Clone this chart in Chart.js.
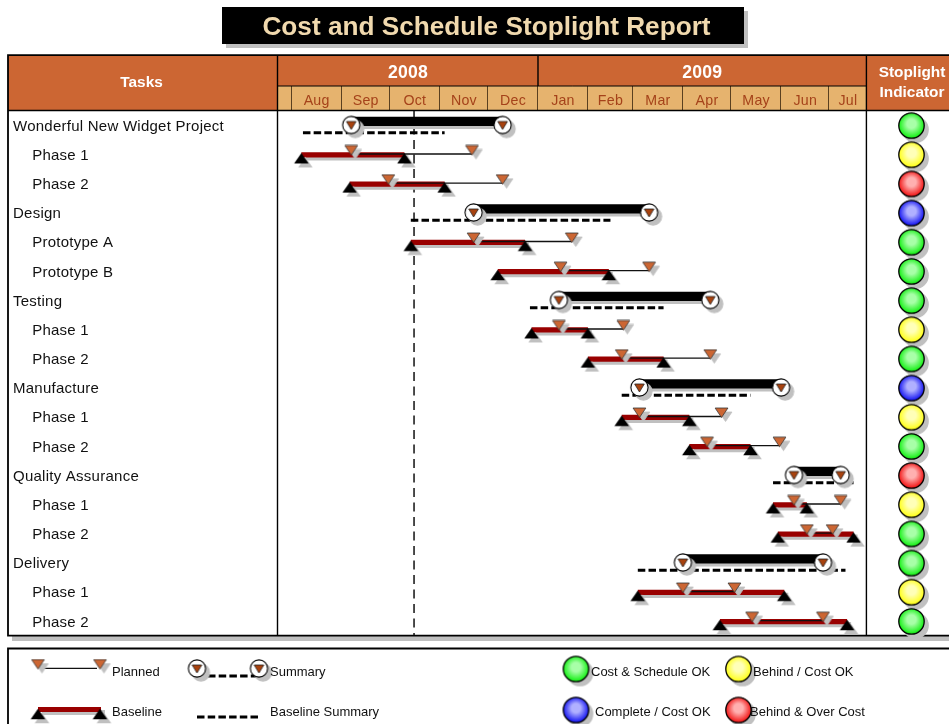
<!DOCTYPE html>
<html><head><meta charset="utf-8"><title>Cost and Schedule Stoplight Report</title>
<style>html,body{margin:0;padding:0;background:#fff;overflow:hidden}canvas{display:block}</style>
<script src="https://cdn.jsdelivr.net/npm/chart.js@4"></script></head>
<body><canvas id="c" width="949" height="724"></canvas>
<script>
const reportTitle = 'Cost and Schedule Stoplight Report';
const taskLabels = ['Wonderful New Widget Project','Phase 1','Phase 2','Design','Prototype A','Prototype B','Testing','Phase 1','Phase 2','Manufacture','Phase 1','Phase 2','Quality Assurance','Phase 1','Phase 2','Delivery','Phase 1','Phase 2'];
const taskLevels = [0,1,1,0,1,1,0,1,1,0,1,1,0,1,1,0,1,1];
const baselineStart = ['2008-08-08','2008-08-07','2008-09-06','2008-10-14','2008-10-14','2008-12-07','2008-12-27','2008-12-28','2009-02-01','2009-02-22','2009-02-22','2009-04-05','2009-05-27','2009-05-27','2009-05-30','2009-03-04','2009-03-04','2009-04-24'];
const baselineEnd   = ['2008-11-04','2008-10-10','2008-11-04','2009-02-15','2008-12-24','2009-02-14','2009-03-20','2009-02-01','2009-03-20','2009-05-13','2009-04-05','2009-05-13','2009-07-16','2009-06-17','2009-07-16','2009-07-11','2009-06-03','2009-07-12'];
const plannedStart  = ['2008-09-07','2008-09-07','2008-09-30','2008-11-22','2008-11-22','2009-01-15','2009-01-14','2009-01-14','2009-02-22','2009-03-05','2009-03-05','2009-04-16','2009-06-09','2009-06-09','2009-06-17','2009-04-01','2009-04-01','2009-05-14'];
const plannedEnd    = ['2008-12-10','2008-11-21','2008-12-10','2009-03-11','2009-01-22','2009-03-11','2009-04-18','2009-02-23','2009-04-18','2009-06-01','2009-04-25','2009-05-31','2009-07-08','2009-07-08','2009-07-03','2009-06-27','2009-05-03','2009-06-27'];
const rowStatus = ['ok','behind','over','complete','ok','ok','ok','behind','ok','complete','behind','ok','over','behind','ok','ok','behind','ok'];
const statusDate = '2008-10-16';
const monthStarts = ['2008-08-01','2008-09-01','2008-10-01','2008-11-01','2008-12-01','2009-01-01','2009-02-01','2009-03-01','2009-04-01','2009-05-01','2009-06-01','2009-07-01'];
const monthLabels = ['Aug','Sep','Oct','Nov','Dec','Jan','Feb','Mar','Apr','May','Jun','Jul'];
const yearLabels = ['2008','2009'];
const timelineEnd = '2009-07-24';

const FONT = "'Liberation Sans', Arial, sans-serif";
const C = {head:'#CC6633', month:'#E6B36E', monthText:'#A5421A', title:'#F0D9AE', red:'#990000', tri:'#CC6633', triIn:'#A8420E', shadow:'#C0C0C0'};
const day = s => (Date.parse(s + 'T00:00:00Z') - Date.parse('2008-08-01T00:00:00Z')) / 864e5;
const AXIS_MIN = -8.5, AXIS_MAX = 408.3;
const DASH = [7.5, 3.2];

function sprite(w, h, fn){ const c = document.createElement('canvas'); c.width = w; c.height = h; fn(c.getContext('2d'), w, h); return c; }
function tri(g, cx, top, w, h, up, fill, stroke, lw){ g.beginPath();
  if(up){ g.moveTo(cx, top); g.lineTo(cx+w/2, top+h); g.lineTo(cx-w/2, top+h);} else { g.moveTo(cx-w/2, top); g.lineTo(cx+w/2, top); g.lineTo(cx, top+h);} 
  g.closePath(); g.fillStyle = fill; g.fill(); if(stroke){ g.strokeStyle = stroke; g.lineWidth = lw; g.stroke(); } }
const sprPlanned = sprite(15, 12, (g,w)=> tri(g, w/2, 1, 12.8, 9.5, false, C.tri, '#333', 0.8));
const sprBase = sprite(17, 12, (g,w)=> tri(g, w/2, 0.75, 14.6, 10.5, true, '#000'));
const sprSummary = sprite(21, 21, (g,w,h)=>{ g.beginPath(); g.arc(w/2,h/2,8.6,0,7); g.fillStyle='#fff'; g.fill(); g.strokeStyle='#000'; g.lineWidth=1.1; g.stroke(); tri(g, w/2, 7, 9.6, 8, false, C.triIn, '#222', 0.8); });
function sphere(light, base){ return sprite(29, 29, (g,w,h)=>{ const gr = g.createRadialGradient(14.5,12,0.5,14.5,14,14); gr.addColorStop(0, light); gr.addColorStop(0.3, light); gr.addColorStop(1, base); g.beginPath(); g.arc(w/2,h/2,12.7,0,7); g.fillStyle = gr; g.fill(); g.strokeStyle='#000'; g.lineWidth=1.3; g.stroke(); }); }
const sprLights = { ok:sphere('#A8FFA8','#00EE00'), behind:sphere('#FFFFB8','#FFFF00'), over:sphere('#FFB0B0','#F00000'), complete:sphere('#B0B0FF','#0000F0') };

const spans = (starts, ends, rows, lane) => rows.flatMap(r => [{x:day(starts[r]), y:r+lane},{x:day(ends[r]), y:r+lane},{x:null,y:null}]);
const ends = (list, rows, lane) => rows.map(r => ({x:day(list[r]), y:r+lane}));
const allRows = taskLabels.map((_,i)=>i);
const topRows = allRows.filter(r=>taskLevels[r]===0);
const subRows = allRows.filter(r=>taskLevels[r]===1);
const lineSet = (data,color,width,extra) => Object.assign({type:'scatter',showLine:true,data,borderColor:color,borderWidth:width,pointRadius:0,clip:false,spanGaps:false},extra||{});
const ptSet = (data,style,extra) => Object.assign({type:'scatter',showLine:false,data,pointStyle:style,pointRadius:8,pointHoverRadius:8,borderWidth:0,clip:false,castShadow:4},extra||{});

const datasets = [
  ptSet(allRows.map(r=>({x:0,y:r})), allRows.map(r=>sprLights[rowStatus[r]]), {label:'Stoplight', xAxisID:'xLight'}),
  ptSet(ends(plannedStart,topRows,-0.02).concat(ends(plannedEnd,topRows,-0.02)), sprSummary, {label:'Summary'}),
  ptSet(ends(plannedStart,subRows,-0.146).concat(ends(plannedEnd,subRows,-0.146)), sprPlanned, {label:'Planned'}),
  ptSet(ends(baselineStart,subRows,0.122).concat(ends(baselineEnd,subRows,0.122)), sprBase, {label:'Baseline'}),
  lineSet(spans(plannedStart,plannedEnd,subRows,-0.025),'#111',1.3,{label:'Planned span'}),
  lineSet(spans(baselineStart,baselineEnd,subRows,0.005),C.red,5.3,{label:'Baseline span',castShadow:3}),
  lineSet(spans(plannedStart,plannedEnd,topRows,-0.145),'#000',9.2,{label:'Summary span',castShadow:3}),
  lineSet(spans(baselineStart,baselineEnd,topRows,0.245),'#000',3.2,{label:'Baseline Summary',borderDash:DASH}),
  lineSet([{x:day(statusDate),y:-0.5},{x:day(statusDate),y:17.5}],'#000',1.4,{label:'Status date',borderDash:[9,5.5]})
];

const framePlugin = {
  id:'frame',
  beforeDraw(chart){
    const g = chart.ctx, X = chart.scales.x, A = chart.chartArea, R = 949;
    const xStart = A.left, xEnd = X.getPixelForValue(day(timelineEnd)), xJan = X.getPixelForValue(day('2009-01-01'));
    g.save();
    g.letterSpacing='0px';
    g.fillStyle='#fff'; g.fillRect(0,0,949,724);
    g.fillStyle=C.shadow; g.fillRect(12,636,R-12,5);
    g.fillStyle='#fff'; g.fillRect(8,55,R-8,581);
    g.fillStyle=C.head; g.fillRect(8,55,R-8,56);
    g.fillStyle=C.month; g.fillRect(xStart,86,xEnd-xStart,25);
    g.strokeStyle='#5A4020'; g.lineWidth=1;
    monthStarts.forEach(m=>{ const x=Math.round(X.getPixelForValue(day(m)))-0.5; g.beginPath(); g.moveTo(x,86); g.lineTo(x,111); g.stroke(); });
    g.strokeStyle='#000'; g.lineWidth=1;
    g.beginPath(); g.moveTo(xStart,86); g.lineTo(xEnd,86); g.stroke();
    g.lineWidth=1.4;
    g.beginPath(); g.moveTo(8,110.5); g.lineTo(R,110.5); g.stroke();
    g.beginPath(); g.moveTo(xStart-0.5,55); g.lineTo(xStart-0.5,636); g.moveTo(xEnd,55); g.lineTo(xEnd,636); g.moveTo(xJan,55); g.lineTo(xJan,86); g.stroke();
    g.lineWidth=1.8;
    g.beginPath(); g.moveTo(R,55.2); g.lineTo(8,55.2); g.lineTo(8,635.7); g.lineTo(R,635.7); g.stroke();
    g.fillStyle=C.shadow; g.fillRect(226,11,522,37);
    g.fillStyle='#000'; g.fillRect(222,7,522,37);
    g.font='bold 26.2px '+FONT; g.fillStyle=C.title; g.textAlign='center'; g.textBaseline='middle';
    g.fillText(reportTitle,486.5,28);
    g.fillStyle='#fff'; g.font='bold 15.4px '+FONT;
    g.fillText('Tasks',141.5,82.5);
    g.fillText('Stoplight',912,73); g.fillText('Indicator',912,93);
    g.restore();
    g.letterSpacing='0.25px';
  },
  beforeDatasetDraw(chart,args){
    const ds = chart.data.datasets[args.index];
    if(ds.castShadow){ const g=chart.ctx; g.save(); g.shadowColor=C.shadow; g.shadowOffsetX=4; g.shadowOffsetY=ds.castShadow; g.shadowBlur=0; ds._shadowOn=true; }
  },
  afterDatasetDraw(chart,args){
    const ds = chart.data.datasets[args.index];
    if(ds._shadowOn){ chart.ctx.restore(); ds._shadowOn=false; }
  },
  afterDraw(chart){
    const g = chart.ctx;
    g.save();
    g.letterSpacing='0px';
    g.strokeStyle='#000'; g.lineWidth=1.8;
    g.beginPath(); g.moveTo(949,648.5); g.lineTo(8,648.5); g.lineTo(8,724); g.stroke();
    const put=(s,x,y)=>g.drawImage(s,x-s.width/2,y-s.height/2);
    const shadowOn=()=>{ g.shadowColor=C.shadow; g.shadowOffsetX=4; g.shadowOffsetY=4; };
    const shadowOff=()=>{ g.shadowColor='transparent'; g.shadowOffsetX=0; g.shadowOffsetY=0; };
    g.strokeStyle='#111'; g.lineWidth=1.2; g.beginPath(); g.moveTo(44,668.3); g.lineTo(97,668.3); g.stroke();
    shadowOn(); put(sprPlanned,38,664.5); put(sprPlanned,100,664.5);
    g.fillStyle=C.red; g.shadowOffsetY=3; g.fillRect(38,707,63,5); g.shadowOffsetY=4;
    put(sprBase,38,714); put(sprBase,100,714);
    shadowOff();
    const dash=(x0,x1,y)=>{ g.save(); g.strokeStyle='#000'; g.lineWidth=3.2; g.setLineDash(DASH); g.beginPath(); g.moveTo(x0,y); g.lineTo(x1,y); g.stroke(); g.restore(); };
    dash(208,256,676); 
    shadowOn(); put(sprSummary,197,668.5); put(sprSummary,259,668.5); shadowOff();
    dash(197,260,717);
    shadowOn();
    put(sprLights.ok,576,669); put(sprLights.behind,738.5,669); put(sprLights.complete,576,710); put(sprLights.over,738.5,710);
    shadowOff();
    g.font='13px '+FONT; g.fillStyle='#111'; g.textAlign='left'; g.textBaseline='middle';
    [['Planned',112,672],['Summary',270,672],['Baseline',112,712.5],['Baseline Summary',270,712.5],['Cost & Schedule OK',591,672],['Behind / Cost OK',753,672],['Complete / Cost OK',595,712.5],['Behind & Over Cost',750,712.5]].forEach(t=>g.fillText(t[0],t[1],t[2]));
    g.restore();
  }
};
const noPad = s => { s.paddingLeft=0; s.paddingRight=0; s.paddingTop=0; s.paddingBottom=0; };

new Chart(document.getElementById('c'), {
  type:'scatter',
  data:{datasets},
  plugins:[framePlugin],
  options:{
    responsive:false, animation:false, events:[],
    layout:{autoPadding:false,padding:{left:13,top:55,right:0,bottom:88}},
    plugins:{legend:{display:false},tooltip:{enabled:false},title:{display:false}},
    scales:{
      x:{type:'linear',position:'top',min:AXIS_MIN,max:AXIS_MAX,
        grid:{display:false,drawTicks:false},border:{display:false},
        afterFit(s){ s.height=25; noPad(s); },
        afterBuildTicks(s){ const e=monthStarts.map(day).concat(day(timelineEnd)); s.ticks=monthLabels.map((_,i)=>({value:(e[i]+e[i+1])/2})); },
        afterTickToLabelConversion(s){ s.ticks.forEach((t,i)=>t.label=monthLabels[i]); },
        ticks:{autoSkip:false,maxRotation:0,minRotation:0,color:C.monthText,font:{family:FONT,size:14.2},padding:1.5}},
      xYear:{type:'linear',position:'top',min:AXIS_MIN,max:AXIS_MAX,
        grid:{display:false,drawTicks:false},border:{display:false},
        afterFit(s){ s.height=31; noPad(s); },
        afterBuildTicks(s){ const j=day('2009-01-01'); s.ticks=[{value:(AXIS_MIN+j)/2},{value:(j+day(timelineEnd))/2}]; },
        afterTickToLabelConversion(s){ s.ticks.forEach((t,i)=>t.label=yearLabels[i]); },
        ticks:{autoSkip:false,maxRotation:0,minRotation:0,color:'#fff',font:{family:FONT,size:17.6,weight:'bold'},padding:2}},
      xLight:{type:'linear',display:false,min:-633.5,max:37.5},
      y:{type:'linear',display:false,reverse:true,min:-0.5,max:17.5},
      yLabels:{type:'linear',position:'left',reverse:true,min:-0.534,max:17.466,
        grid:{display:false,drawTicks:false},border:{display:false},
        afterFit(s){ s.width=265; noPad(s); },
        afterBuildTicks(s){ s.ticks=allRows.map(r=>({value:r})); },
        afterTickToLabelConversion(s){ s.ticks.forEach((t,i)=>t.label=(taskLevels[i]?'\u00A0\u00A0\u00A0\u00A0\u200A':'')+taskLabels[i]); },
        ticks:{autoSkip:false,crossAlign:'far',color:'#111',font:{family:FONT,size:15},padding:0}}
    }
  }
});
</script></body></html>
